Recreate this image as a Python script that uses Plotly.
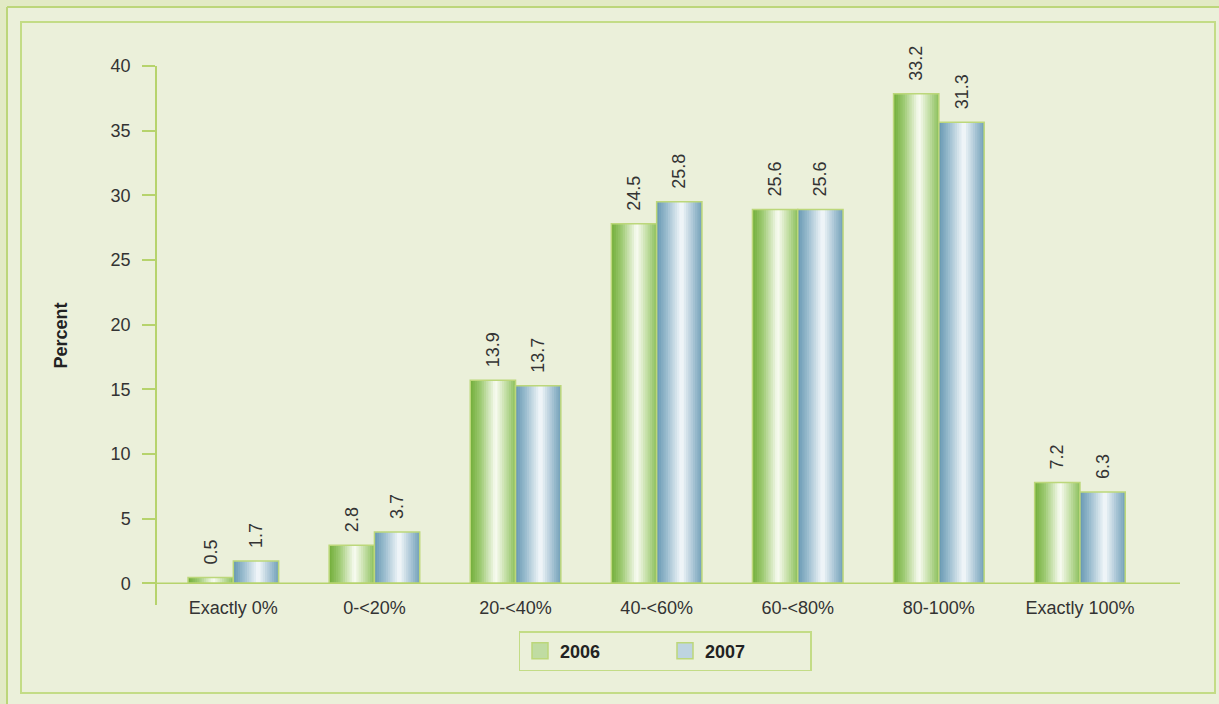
import plotly.graph_objects as go

# ---------------- data ----------------
categories = ["Exactly 0%", "0-<20%", "20-<40%", "40-<60%", "60-<80%", "80-100%", "Exactly 100%"]
labels_2006 = [0.5, 2.8, 13.9, 24.5, 25.6, 33.2, 7.2]
labels_2007 = [1.7, 3.7, 13.7, 25.8, 25.6, 31.3, 6.3]
# bar heights as drawn in the picture (read on the y axis scale)
heights_2006 = [0.45, 2.95, 15.7, 27.8, 28.9, 37.85, 7.8]
heights_2007 = [1.73, 3.97, 15.27, 29.5, 28.9, 35.65, 7.05]
series_names = ["2006", "2007"]
y_ticks = [0, 5, 10, 15, 20, 25, 30, 35, 40]

# ---------------- styling ----------------
FONT = "Liberation Sans, Arial, sans-serif"
BG = "#EBF0DA"
LINE_GREEN = "#BCD77A"
AXIS_GREEN = "#B6D36C"
TEXT = "#333333"

# gradient stops (position across bar, colour)
grad_2006 = [(0.0, (0x72, 0xAE, 0x3A)), (0.22, (0x9C, 0xC9, 0x70)), (0.56, (0xFA, 0xFC, 0xF3)),
             (0.78, (0xC4, 0xDF, 0xA6)), (1.0, (0x8A, 0xBF, 0x5C))]
grad_2007 = [(0.0, (0x66, 0x98, 0xB2)), (0.22, (0x9A, 0xBC, 0xCE)), (0.55, (0xF5, 0xF9, 0xFB)),
             (0.8, (0xAA, 0xC6, 0xD6)), (1.0, (0x72, 0xA0, 0xB8))]


def interp(stops, t):
    for (p0, c0), (p1, c1) in zip(stops[:-1], stops[1:]):
        if p0 <= t <= p1:
            f = (t - p0) / (p1 - p0) if p1 > p0 else 0
            c = [round(a + (b - a) * f) for a, b in zip(c0, c1)]
            return "rgb(%d,%d,%d)" % tuple(c)
    return "rgb(%d,%d,%d)" % stops[-1][1]


BAR_W = 0.321
N_STRIPS = 20

# plot area in pixels (for paper conversions)
L, R, T, B = 157, 39, 66, 99
W, H = 1219, 704
PW, PH = W - L - R, H - T - B


def px_x(px):
    return (px - L) / PW


def px_y(py):
    return (H - B - py) / PH


fig = go.Figure()

for name, heights, labels, stops, base_off in [
    (series_names[0], heights_2006, labels_2006, grad_2006, -BAR_W),
    (series_names[1], heights_2007, labels_2007, grad_2007, 0.0),
]:
    sw = BAR_W / N_STRIPS
    for i in range(N_STRIPS):
        t = (i + 0.5) / N_STRIPS
        w = sw * 1.6 if i < N_STRIPS - 1 else sw
        fig.add_trace(go.Bar(
            x=categories, y=heights, width=w, offset=base_off + i * sw,
            marker=dict(color=interp(stops, t), line=dict(width=0)),
            showlegend=False, hoverinfo="skip",
        ))
    # outline + value labels
    fig.add_trace(go.Bar(
        x=categories, y=heights, width=BAR_W, offset=base_off,
        marker=dict(color="rgba(0,0,0,0)", line=dict(color=LINE_GREEN, width=1.5)),
        text=["\u00a0\u00a0" + f"{v:.1f}" for v in labels],
        textposition="outside", textangle=-90, constraintext="none",
        textfont=dict(family=FONT, size=18, color=TEXT),
        cliponaxis=False, showlegend=False, name=name,
    ))
    # legend entry
    fig.add_trace(go.Scatter(
        x=[None], y=[None], name=name, mode="markers",
        marker=dict(symbol="square", size=22, color=interp(stops, 0.35),
                    line=dict(color=LINE_GREEN, width=1.5)),
    ))

shapes = [
    # horizontal axis line at y=0 (extends slightly left of the y axis)
    dict(type="line", xref="paper", yref="y", x0=px_x(143), x1=1, y0=0, y1=0,
         line=dict(color=AXIS_GREEN, width=1.5), layer="above"),
    # outer bands
    dict(type="rect", xref="paper", yref="paper", x0=px_x(0), x1=px_x(7), y0=px_y(704), y1=px_y(0),
         fillcolor="#E2EAC5", line=dict(width=0), layer="below"),
    dict(type="rect", xref="paper", yref="paper", x0=px_x(0), x1=px_x(1219), y0=px_y(7), y1=px_y(0),
         fillcolor="#E2EAC5", line=dict(width=0), layer="below"),
    dict(type="line", xref="paper", yref="paper", x0=px_x(7), x1=px_x(7), y0=px_y(704), y1=px_y(7),
         line=dict(color="#BCD67A", width=2)),
    dict(type="line", xref="paper", yref="paper", x0=px_x(7), x1=px_x(1219), y0=px_y(7), y1=px_y(7),
         line=dict(color="#BCD67A", width=2)),
    # inner frame
    dict(type="rect", xref="paper", yref="paper", x0=px_x(21), x1=px_x(1215), y0=px_y(693), y1=px_y(22),
         line=dict(color="#C3DC86", width=2), fillcolor="rgba(0,0,0,0)", layer="below"),
]

fig.update_layout(
    width=W, height=H,
    margin=dict(l=L, r=R, t=T, b=B),
    paper_bgcolor=BG, plot_bgcolor=BG,
    barmode="overlay",
    font=dict(family=FONT, size=18, color=TEXT),
    shapes=shapes,
    xaxis=dict(
        range=[-0.541, 6.709], showgrid=False, zeroline=False, showline=False,
        ticks="", tickfont=dict(size=18, color=TEXT), ticklabelstandoff=-10,
        fixedrange=True,
    ),
    yaxis=dict(
        range=[-1.68, 40], tickvals=y_ticks, showgrid=False, zeroline=False,
        showline=True, linecolor=AXIS_GREEN, linewidth=1.5,
        ticks="outside", ticklen=13, tickcolor=AXIS_GREEN, tickwidth=1.5,
        tickfont=dict(size=18, color=TEXT), ticklabelstandoff=8,
        title=dict(text="<b>Percent</b>", font=dict(size=18, color="#222222"), standoff=38),
        fixedrange=True,
    ),
    legend=dict(
        orientation="h", x=px_x(665), xanchor="center", y=px_y(631), yanchor="top",
        bordercolor="#C3DC86", borderwidth=1.5, bgcolor="rgba(0,0,0,0)",
        font=dict(size=18, color="#222222", family=FONT, weight="bold"),
        entrywidth=100, traceorder="normal", itemsizing="trace",
    ),
)

fig.write_html(
    "out.html",
    config={"displayModeBar": False},
    post_script="document.body.style.margin='0';document.body.style.background='#EBF0DA';",
)
